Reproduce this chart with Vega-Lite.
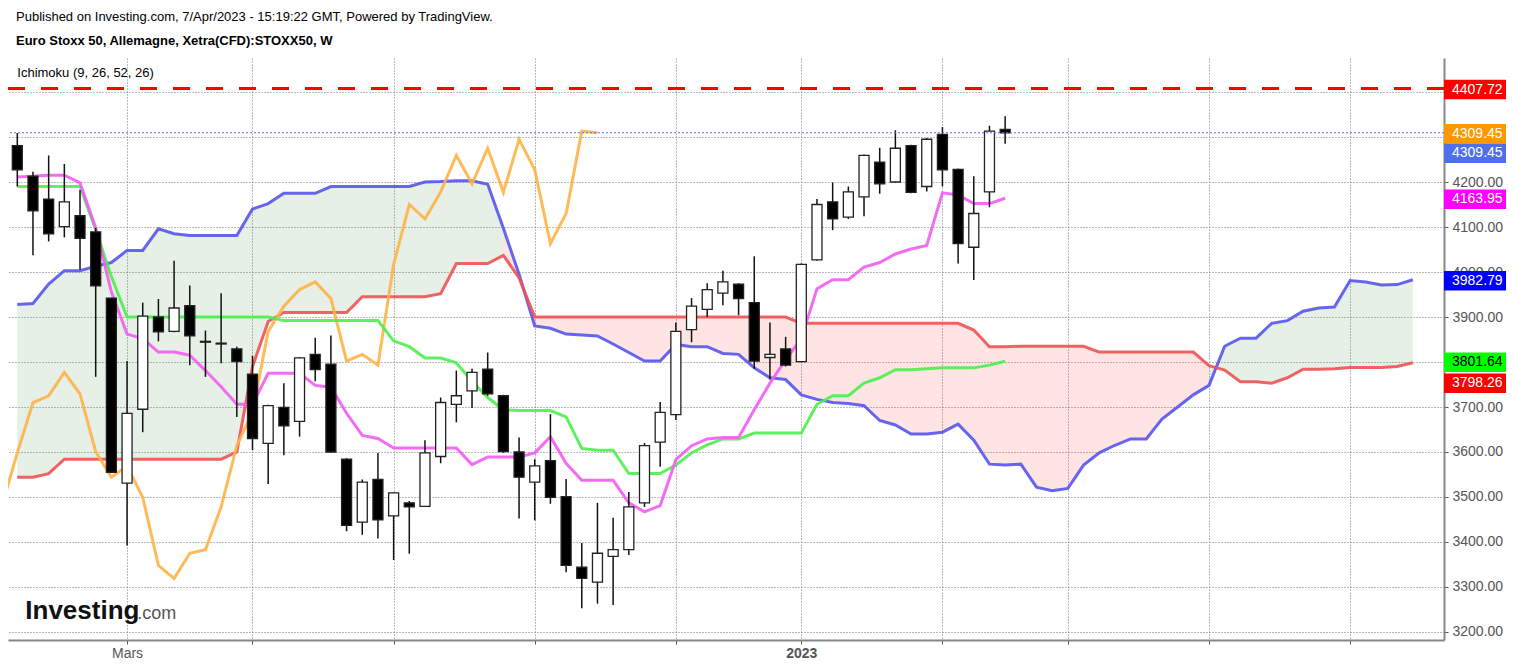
{
  "$schema": "https://vega.github.io/schema/vega-lite/v6.json",
  "width": 1436,
  "height": 582,
  "autosize": "none",
  "padding": {"left": 8, "top": 58, "right": 69, "bottom": 28},
  "background": "white",
  "config": {"view": {"stroke": null}, "font": "Liberation Sans"},
  "title": {
    "text": "Published on Investing.com, 7/Apr/2023 - 15:19:22 GMT, Powered by TradingView.",
    "subtitle": "Euro Stoxx 50, Allemagne, Xetra(CFD):STOXX50, W",
    "anchor": "start", "frame": "group", "dx": 8, "offset": 10,
    "font": "Liberation Sans", "fontSize": 13, "fontWeight": "normal", "color": "#000",
    "subtitleFont": "Liberation Sans", "subtitleFontSize": 13, "subtitleFontWeight": "bold",
    "subtitleColor": "#000", "subtitlePadding": 11
  },
  "datasets": {
    "candles": [
      {"date":"2022-01-17","open":4281,"high":4309,"low":4190,"close":4227,"tenkan":4211,"kijun":4190},
      {"date":"2022-01-24","open":4213,"high":4223,"low":4037,"close":4136,"tenkan":4213,"kijun":4190},
      {"date":"2022-01-31","open":4162,"high":4259,"low":4068,"close":4085,"tenkan":4215,"kijun":4190},
      {"date":"2022-02-07","open":4101,"high":4240,"low":4077,"close":4156,"tenkan":4215,"kijun":4190},
      {"date":"2022-02-14","open":4125,"high":4182,"low":4005,"close":4075,"tenkan":4198,"kijun":4190},
      {"date":"2022-02-21","open":4089,"high":4098,"low":3767,"close":3969,"tenkan":4098,"kijun":4094},
      {"date":"2022-02-28","open":3942,"high":3943,"low":3554,"close":3555,"tenkan":3956,"kijun":3990},
      {"date":"2022-03-07","open":3531,"high":3802,"low":3392,"close":3686,"tenkan":3862,"kijun":3900},
      {"date":"2022-03-14","open":3695,"high":3932,"low":3644,"close":3902,"tenkan":3852,"kijun":3900},
      {"date":"2022-03-21","open":3900,"high":3940,"low":3846,"close":3867,"tenkan":3822,"kijun":3900},
      {"date":"2022-03-28","open":3868,"high":4025,"low":3866,"close":3920,"tenkan":3822,"kijun":3900},
      {"date":"2022-04-04","open":3925,"high":3970,"low":3793,"close":3858,"tenkan":3815,"kijun":3900},
      {"date":"2022-04-11","open":3846,"high":3870,"low":3767,"close":3844,"tenkan":3781,"kijun":3900},
      {"date":"2022-04-18","open":3842,"high":3953,"low":3797,"close":3840,"tenkan":3745,"kijun":3900},
      {"date":"2022-04-25","open":3829,"high":3834,"low":3678,"close":3801,"tenkan":3706,"kijun":3900},
      {"date":"2022-05-02","open":3773,"high":3814,"low":3604,"close":3630,"tenkan":3706,"kijun":3900},
      {"date":"2022-05-09","open":3619,"high":3705,"low":3529,"close":3703,"tenkan":3775,"kijun":3900},
      {"date":"2022-05-16","open":3699,"high":3753,"low":3593,"close":3658,"tenkan":3775,"kijun":3892},
      {"date":"2022-05-23","open":3668,"high":3811,"low":3634,"close":3809,"tenkan":3775,"kijun":3892},
      {"date":"2022-05-30","open":3817,"high":3854,"low":3757,"close":3783,"tenkan":3748,"kijun":3892},
      {"date":"2022-06-06","open":3795,"high":3859,"low":3598,"close":3600,"tenkan":3744,"kijun":3892},
      {"date":"2022-06-13","open":3584,"high":3586,"low":3424,"close":3437,"tenkan":3686,"kijun":3892},
      {"date":"2022-06-20","open":3444,"high":3539,"low":3416,"close":3533,"tenkan":3637,"kijun":3892},
      {"date":"2022-06-27","open":3539,"high":3598,"low":3408,"close":3449,"tenkan":3630,"kijun":3892},
      {"date":"2022-07-04","open":3458,"high":3510,"low":3360,"close":3509,"tenkan":3609,"kijun":3847},
      {"date":"2022-07-11","open":3487,"high":3491,"low":3374,"close":3478,"tenkan":3609,"kijun":3834},
      {"date":"2022-07-18","open":3479,"high":3626,"low":3478,"close":3598,"tenkan":3609,"kijun":3809},
      {"date":"2022-07-25","open":3590,"high":3721,"low":3575,"close":3710,"tenkan":3609,"kijun":3809},
      {"date":"2022-08-01","open":3706,"high":3781,"low":3666,"close":3725,"tenkan":3609,"kijun":3798},
      {"date":"2022-08-08","open":3736,"high":3785,"low":3698,"close":3777,"tenkan":3572,"kijun":3757},
      {"date":"2022-08-15","open":3784,"high":3821,"low":3725,"close":3729,"tenkan":3589,"kijun":3721},
      {"date":"2022-08-22","open":3725,"high":3727,"low":3598,"close":3601,"tenkan":3589,"kijun":3694},
      {"date":"2022-08-29","open":3600,"high":3632,"low":3452,"close":3544,"tenkan":3589,"kijun":3692},
      {"date":"2022-09-05","open":3533,"high":3584,"low":3448,"close":3569,"tenkan":3598,"kijun":3692},
      {"date":"2022-09-12","open":3581,"high":3684,"low":3485,"close":3499,"tenkan":3634,"kijun":3692},
      {"date":"2022-09-19","open":3501,"high":3540,"low":3333,"close":3348,"tenkan":3575,"kijun":3678},
      {"date":"2022-09-26","open":3344,"high":3398,"low":3253,"close":3319,"tenkan":3537,"kijun":3608},
      {"date":"2022-10-03","open":3311,"high":3487,"low":3263,"close":3375,"tenkan":3537,"kijun":3604},
      {"date":"2022-10-10","open":3368,"high":3454,"low":3260,"close":3383,"tenkan":3537,"kijun":3604},
      {"date":"2022-10-17","open":3383,"high":3511,"low":3371,"close":3478,"tenkan":3487,"kijun":3552},
      {"date":"2022-10-24","open":3487,"high":3620,"low":3478,"close":3614,"tenkan":3467,"kijun":3552},
      {"date":"2022-10-31","open":3622,"high":3711,"low":3567,"close":3688,"tenkan":3481,"kijun":3552},
      {"date":"2022-11-07","open":3683,"high":3888,"low":3671,"close":3868,"tenkan":3583,"kijun":3571},
      {"date":"2022-11-14","open":3872,"high":3942,"low":3844,"close":3924,"tenkan":3614,"kijun":3598},
      {"date":"2022-11-21","open":3917,"high":3975,"low":3900,"close":3961,"tenkan":3629,"kijun":3616},
      {"date":"2022-11-28","open":3953,"high":4003,"low":3926,"close":3978,"tenkan":3632,"kijun":3629},
      {"date":"2022-12-05","open":3973,"high":3975,"low":3904,"close":3941,"tenkan":3632,"kijun":3629},
      {"date":"2022-12-12","open":3932,"high":4035,"low":3785,"close":3802,"tenkan":3694,"kijun":3642},
      {"date":"2022-12-19","open":3810,"high":3888,"low":3761,"close":3817,"tenkan":3753,"kijun":3642},
      {"date":"2022-12-26","open":3829,"high":3856,"low":3790,"close":3793,"tenkan":3805,"kijun":3642},
      {"date":"2023-01-02","open":3801,"high":4019,"low":3799,"close":4017,"tenkan":3852,"kijun":3642},
      {"date":"2023-01-09","open":4027,"high":4162,"low":4025,"close":4150,"tenkan":3963,"kijun":3706},
      {"date":"2023-01-16","open":4156,"high":4199,"low":4093,"close":4118,"tenkan":3983,"kijun":3725},
      {"date":"2023-01-23","open":4122,"high":4190,"low":4118,"close":4178,"tenkan":3983,"kijun":3725},
      {"date":"2023-01-30","open":4167,"high":4261,"low":4124,"close":4259,"tenkan":4011,"kijun":3753},
      {"date":"2023-02-06","open":4244,"high":4276,"low":4174,"close":4196,"tenkan":4021,"kijun":3765},
      {"date":"2023-02-13","open":4200,"high":4315,"low":4198,"close":4275,"tenkan":4040,"kijun":3783},
      {"date":"2023-02-20","open":4281,"high":4283,"low":4175,"close":4177,"tenkan":4051,"kijun":3783},
      {"date":"2023-02-27","open":4190,"high":4298,"low":4179,"close":4295,"tenkan":4059,"kijun":3785},
      {"date":"2023-03-06","open":4306,"high":4322,"low":4190,"close":4227,"tenkan":4176,"kijun":3787},
      {"date":"2023-03-13","open":4228,"high":4230,"low":4019,"close":4063,"tenkan":4171,"kijun":3787},
      {"date":"2023-03-20","open":4055,"high":4213,"low":3982,"close":4130,"tenkan":4152,"kijun":3787},
      {"date":"2023-03-27","open":4178,"high":4325,"low":4144,"close":4313,"tenkan":4152,"kijun":3793},
      {"date":"2023-04-03","open":4317,"high":4346,"low":4285,"close":4309.45,"tenkan":4163.95,"kijun":3801.64}
    ],
    "chikou": [
      {"date":"2022-01-10","chikou":3478},{"date":"2022-01-17","chikou":3598},{"date":"2022-01-24","chikou":3710},
      {"date":"2022-01-31","chikou":3725},{"date":"2022-02-07","chikou":3777},{"date":"2022-02-14","chikou":3729},
      {"date":"2022-02-21","chikou":3601},{"date":"2022-02-28","chikou":3544},{"date":"2022-03-07","chikou":3569},
      {"date":"2022-03-14","chikou":3499},{"date":"2022-03-21","chikou":3348},{"date":"2022-03-28","chikou":3319},
      {"date":"2022-04-04","chikou":3375},{"date":"2022-04-11","chikou":3383},{"date":"2022-04-18","chikou":3478},
      {"date":"2022-04-25","chikou":3614},{"date":"2022-05-02","chikou":3688},{"date":"2022-05-09","chikou":3868},
      {"date":"2022-05-16","chikou":3924},{"date":"2022-05-23","chikou":3961},{"date":"2022-05-30","chikou":3978},
      {"date":"2022-06-06","chikou":3941},{"date":"2022-06-13","chikou":3802},{"date":"2022-06-20","chikou":3817},
      {"date":"2022-06-27","chikou":3793},{"date":"2022-07-04","chikou":4017},{"date":"2022-07-11","chikou":4150},
      {"date":"2022-07-18","chikou":4118},{"date":"2022-07-25","chikou":4178},{"date":"2022-08-01","chikou":4259},
      {"date":"2022-08-08","chikou":4196},{"date":"2022-08-15","chikou":4275},{"date":"2022-08-22","chikou":4177},
      {"date":"2022-08-29","chikou":4295},{"date":"2022-09-05","chikou":4227},{"date":"2022-09-12","chikou":4063},
      {"date":"2022-09-19","chikou":4130},{"date":"2022-09-26","chikou":4313},{"date":"2022-10-03","chikou":4309.45}
    ],
    "cloud": [
      {"date":"2022-01-17","spanA":3928,"spanB":3544},{"date":"2022-01-24","spanA":3930,"spanB":3544},
      {"date":"2022-01-31","spanA":3973,"spanB":3552},{"date":"2022-02-07","spanA":4003,"spanB":3584},
      {"date":"2022-02-14","spanA":4003,"spanB":3584},{"date":"2022-02-21","spanA":4013,"spanB":3584},
      {"date":"2022-02-28","spanA":4021,"spanB":3584},{"date":"2022-03-07","spanA":4048,"spanB":3584},
      {"date":"2022-03-14","spanA":4048,"spanB":3584},{"date":"2022-03-21","spanA":4096,"spanB":3584},
      {"date":"2022-03-28","spanA":4085,"spanB":3584},{"date":"2022-04-04","spanA":4081,"spanB":3584},
      {"date":"2022-04-11","spanA":4081,"spanB":3584},{"date":"2022-04-18","spanA":4081,"spanB":3584},
      {"date":"2022-04-25","spanA":4081,"spanB":3600},{"date":"2022-05-02","spanA":4140,"spanB":3790},
      {"date":"2022-05-09","spanA":4152,"spanB":3890},{"date":"2022-05-16","spanA":4175,"spanB":3910},
      {"date":"2022-05-23","spanA":4175,"spanB":3910},{"date":"2022-05-30","spanA":4175,"spanB":3910},
      {"date":"2022-06-06","spanA":4190,"spanB":3910},{"date":"2022-06-13","spanA":4190,"spanB":3910},
      {"date":"2022-06-20","spanA":4190,"spanB":3945},{"date":"2022-06-27","spanA":4190,"spanB":3945},
      {"date":"2022-07-04","spanA":4190,"spanB":3945},{"date":"2022-07-11","spanA":4190,"spanB":3945},
      {"date":"2022-07-18","spanA":4200,"spanB":3945},{"date":"2022-07-25","spanA":4201,"spanB":3952},
      {"date":"2022-08-01","spanA":4203,"spanB":4019},{"date":"2022-08-08","spanA":4203,"spanB":4019},
      {"date":"2022-08-15","spanA":4195,"spanB":4019},{"date":"2022-08-22","spanA":4097,"spanB":4037},
      {"date":"2022-08-29","spanA":3995,"spanB":3987},{"date":"2022-09-05","spanA":3880,"spanB":3900},
      {"date":"2022-09-12","spanA":3875,"spanB":3900},{"date":"2022-09-19","spanA":3862,"spanB":3900},
      {"date":"2022-09-26","spanA":3860,"spanB":3900},{"date":"2022-10-03","spanA":3858,"spanB":3900},
      {"date":"2022-10-10","spanA":3840,"spanB":3900},{"date":"2022-10-17","spanA":3821,"spanB":3900},
      {"date":"2022-10-24","spanA":3802,"spanB":3900},{"date":"2022-10-31","spanA":3802,"spanB":3900},
      {"date":"2022-11-07","spanA":3839,"spanB":3900},{"date":"2022-11-14","spanA":3834,"spanB":3900},
      {"date":"2022-11-21","spanA":3834,"spanB":3900},{"date":"2022-11-28","spanA":3819,"spanB":3900},
      {"date":"2022-12-05","spanA":3817,"spanB":3900},{"date":"2022-12-12","spanA":3787,"spanB":3900},
      {"date":"2022-12-19","spanA":3765,"spanB":3900},{"date":"2022-12-26","spanA":3761,"spanB":3900},
      {"date":"2023-01-02","spanA":3727,"spanB":3886},{"date":"2023-01-09","spanA":3717,"spanB":3886},
      {"date":"2023-01-16","spanA":3710,"spanB":3886},{"date":"2023-01-23","spanA":3708,"spanB":3886},
      {"date":"2023-01-30","spanA":3703,"spanB":3886},{"date":"2023-02-06","spanA":3670,"spanB":3886},
      {"date":"2023-02-13","spanA":3660,"spanB":3886},{"date":"2023-02-20","spanA":3640,"spanB":3886},
      {"date":"2023-02-27","spanA":3640,"spanB":3886},{"date":"2023-03-06","spanA":3644,"spanB":3886},
      {"date":"2023-03-13","spanA":3662,"spanB":3886},{"date":"2023-03-20","spanA":3626,"spanB":3871},
      {"date":"2023-03-27","spanA":3573,"spanB":3834},{"date":"2023-04-03","spanA":3571,"spanB":3834},
      {"date":"2023-04-10","spanA":3573,"spanB":3835},{"date":"2023-04-17","spanA":3522,"spanB":3835},
      {"date":"2023-04-24","spanA":3514,"spanB":3835},{"date":"2023-05-01","spanA":3519,"spanB":3835},
      {"date":"2023-05-08","spanA":3571,"spanB":3835},{"date":"2023-05-15","spanA":3598,"spanB":3822},
      {"date":"2023-05-22","spanA":3615,"spanB":3822},{"date":"2023-05-29","spanA":3629,"spanB":3822},
      {"date":"2023-06-05","spanA":3629,"spanB":3822},{"date":"2023-06-12","spanA":3673,"spanB":3822},
      {"date":"2023-06-19","spanA":3700,"spanB":3822},{"date":"2023-06-26","spanA":3727,"spanB":3822},
      {"date":"2023-07-03","spanA":3748,"spanB":3792},{"date":"2023-07-10","spanA":3835,"spanB":3782},
      {"date":"2023-07-17","spanA":3853,"spanB":3756},{"date":"2023-07-24","spanA":3853,"spanB":3756},
      {"date":"2023-07-31","spanA":3886,"spanB":3753},{"date":"2023-08-07","spanA":3892,"spanB":3765},
      {"date":"2023-08-14","spanA":3913,"spanB":3784},{"date":"2023-08-21","spanA":3920,"spanB":3784},
      {"date":"2023-08-28","spanA":3922,"spanB":3785},{"date":"2023-09-04","spanA":3981,"spanB":3788},
      {"date":"2023-09-11","spanA":3978,"spanB":3788},{"date":"2023-09-18","spanA":3971,"spanB":3788},
      {"date":"2023-09-25","spanA":3972,"spanB":3790},{"date":"2023-10-02","spanA":3982.79,"spanB":3798.26}
    ],
    "prix": [
      {"series":"Plus haut","price":4407.72},
      {"series":"Chikou","price":4309.45},
      {"series":"Dernier","price":4309.45},
      {"series":"Tenkan","price":4163.95},
      {"series":"Senkou A","price":3982.79},
      {"series":"Kijun","price":3801.64},
      {"series":"Senkou B","price":3798.26}
    ]
  },
  "layer": [
    {
      "data": {"name": "cloud"},
      "transform": [{"filter": {"field": "date", "lte": {"year": 2022, "month": 8, "date": 22, "utc": true}}}],
      "mark": {"type": "area", "color": "#3d8c3d", "opacity": 0.13},
      "encoding": {
        "x": {
          "field": "date", "type": "temporal", "title": null,
          "scale": {"type": "utc", "padding": 0, "domain": [
            {"year": 2022, "month": 1, "date": 12, "hours": 20, "minutes": 24, "utc": true},
            {"year": 2023, "month": 10, "date": 15, "hours": 22, "utc": true}
          ]},
          "axis": {
            "title": null,
            "values": [
              {"year": 2022, "month": 3, "date": 7, "utc": true},
              {"year": 2022, "month": 5, "date": 2, "utc": true},
              {"year": 2022, "month": 7, "date": 4, "utc": true},
              {"year": 2022, "month": 9, "date": 5, "utc": true},
              {"year": 2022, "month": 11, "date": 7, "utc": true},
              {"year": 2023, "month": 1, "date": 2, "utc": true},
              {"year": 2023, "month": 3, "date": 6, "utc": true},
              {"year": 2023, "month": 5, "date": 1, "utc": true},
              {"year": 2023, "month": 7, "date": 3, "utc": true},
              {"year": 2023, "month": 9, "date": 4, "utc": true}
            ],
            "labelExpr": "utcFormat(datum.value, '%Y-%m') == '2022-03' ? 'Mars' : (utcFormat(datum.value, '%Y-%m') == '2023-01' ? '2023' : '')",
            "labelFontWeight": {"condition": {"test": "utcFormat(datum.value, '%m') == '01'", "value": "bold"}, "value": "normal"},
            "labelFont": "Liberation Sans", "labelFontSize": 14, "labelColor": "#555",
            "labelPadding": 2, "tickSize": 4, "tickColor": "#555",
            "domainColor": "#888", "domainWidth": 2,
            "grid": true, "gridDash": [1, 2], "gridColor": "#777", "gridWidth": 1
          }
        },
        "y": {
          "field": "spanA", "type": "quantitative", "title": null,
          "scale": {"domain": [3182.2, 4475.6], "nice": false, "zero": false},
          "axis": {
            "title": null, "orient": "right",
            "values": [3200, 3300, 3400, 3500, 3600, 3700, 3800, 3900, 4000, 4100, 4200, 4300, 4400],
            "labelExpr": "datum.value >= 4300 ? '' : format(datum.value, '.2f')",
            "labelFont": "Liberation Sans", "labelFontSize": 14, "labelColor": "#555",
            "labelPadding": 4, "tickSize": 4, "tickColor": "#555",
            "domainColor": "#888", "domainWidth": 2,
            "grid": true, "gridDash": [1, 2], "gridColor": "#777", "gridWidth": 1
          }
        },
        "y2": {"field": "spanB"}
      }
    },
    {
      "data": {"name": "cloud"},
      "transform": [{"filter": {"field": "date", "range": [
        {"year": 2022, "month": 8, "date": 22, "utc": true},
        {"year": 2023, "month": 7, "date": 3, "utc": true}
      ]}}],
      "mark": {"type": "area", "color": "#ff3030", "opacity": 0.13},
      "encoding": {
        "x": {"field": "date", "type": "temporal", "title": null},
        "y": {"field": "spanA", "type": "quantitative", "title": null},
        "y2": {"field": "spanB"}
      }
    },
    {
      "data": {"name": "cloud"},
      "transform": [{"filter": {"field": "date", "gte": {"year": 2023, "month": 7, "date": 3, "utc": true}}}],
      "mark": {"type": "area", "color": "#3d8c3d", "opacity": 0.13},
      "encoding": {
        "x": {"field": "date", "type": "temporal", "title": null},
        "y": {"field": "spanA", "type": "quantitative", "title": null},
        "y2": {"field": "spanB"}
      }
    },
    {
      "data": {"name": "cloud"},
      "mark": {"type": "line", "color": "#5555ee", "strokeWidth": 3, "opacity": 0.9},
      "encoding": {
        "x": {"field": "date", "type": "temporal", "title": null},
        "y": {"field": "spanA", "type": "quantitative", "title": null}
      }
    },
    {
      "data": {"name": "cloud"},
      "mark": {"type": "line", "color": "#f05252", "strokeWidth": 3, "opacity": 0.9},
      "encoding": {
        "x": {"field": "date", "type": "temporal", "title": null},
        "y": {"field": "spanB", "type": "quantitative", "title": null}
      }
    },
    {
      "data": {"name": "chikou"},
      "mark": {"type": "line", "color": "#ffb347", "strokeWidth": 3, "opacity": 0.9, "clip": true},
      "encoding": {
        "x": {"field": "date", "type": "temporal", "title": null},
        "y": {"field": "chikou", "type": "quantitative", "title": null}
      }
    },
    {
      "data": {"name": "candles"},
      "mark": {"type": "line", "color": "#4cee4c", "strokeWidth": 3, "opacity": 0.9},
      "encoding": {
        "x": {"field": "date", "type": "temporal", "title": null},
        "y": {"field": "kijun", "type": "quantitative", "title": null}
      }
    },
    {
      "data": {"name": "candles"},
      "mark": {"type": "line", "color": "#f35cf3", "strokeWidth": 3, "opacity": 0.9},
      "encoding": {
        "x": {"field": "date", "type": "temporal", "title": null},
        "y": {"field": "tenkan", "type": "quantitative", "title": null}
      }
    },
    {
      "data": {"name": "candles"},
      "mark": {"type": "rule", "color": "#111", "strokeWidth": 1.5},
      "encoding": {
        "x": {"field": "date", "type": "temporal", "title": null},
        "y": {"field": "low", "type": "quantitative", "title": null},
        "y2": {"field": "high"}
      }
    },
    {
      "data": {"name": "candles"},
      "mark": {"type": "bar", "width": 10, "stroke": "#222", "strokeWidth": 1.3},
      "encoding": {
        "x": {"field": "date", "type": "temporal", "title": null},
        "y": {"field": "open", "type": "quantitative", "title": null},
        "y2": {"field": "close"},
        "fill": {"condition": {"test": "datum.close > datum.open", "value": "#ffffff"}, "value": "#000000"}
      }
    },
    {
      "data": {"values": [{"price": 4407.72}]},
      "mark": {"type": "rule", "color": "#ff0000", "strokeWidth": 3, "strokeDash": [17, 16]},
      "encoding": {"y": {"field": "price", "type": "quantitative", "title": null}}
    },
    {
      "data": {"values": [{"price": 4309.45}]},
      "mark": {"type": "rule", "color": "#4f6fe8", "strokeWidth": 1, "strokeDash": [2, 2]},
      "encoding": {"y": {"field": "price", "type": "quantitative", "title": null}}
    },
    {
      "data": {"name": "prix"},
      "transform": [{"filter": "datum.series != 'Dernier' && datum.series != 'Senkou B'"}],
      "mark": {"type": "point", "shape": "M0,-0.5L3.18,-0.5L3.18,0.5L0,0.5Z", "size": 1521, "filled": true, "opacity": 1, "strokeWidth": 0, "yOffset": 1},
      "encoding": {
        "x": {"datum": {"year": 2023, "month": 10, "date": 15, "hours": 22, "utc": true}, "type": "temporal", "title": null},
        "y": {"field": "price", "type": "quantitative", "title": null},
        "fill": {"field": "series", "type": "nominal", "legend": null, "scale": {
          "domain": ["Plus haut", "Chikou", "Dernier", "Tenkan", "Senkou A", "Kijun", "Senkou B"],
          "range": ["#ff0000", "#ff9800", "#4f6fe8", "#ff00ff", "#0000ff", "#00ff00", "#ff0000"]
        }}
      }
    },
    {
      "data": {"name": "prix"},
      "transform": [{"filter": "datum.series == 'Dernier' || datum.series == 'Senkou B'"}],
      "mark": {"type": "point", "shape": "M0,-0.5L3.18,-0.5L3.18,0.5L0,0.5Z", "size": 1521, "filled": true, "opacity": 1, "strokeWidth": 0, "yOffset": 20.5},
      "encoding": {
        "x": {"datum": {"year": 2023, "month": 10, "date": 15, "hours": 22, "utc": true}, "type": "temporal", "title": null},
        "y": {"field": "price", "type": "quantitative", "title": null},
        "fill": {"field": "series", "type": "nominal", "legend": null}
      }
    },
    {
      "data": {"name": "prix"},
      "transform": [{"filter": "datum.series != 'Dernier' && datum.series != 'Senkou B'"}],
      "mark": {"type": "text", "align": "left", "baseline": "middle", "dx": 8, "yOffset": 1, "fontSize": 14, "font": "Liberation Sans"},
      "encoding": {
        "x": {"datum": {"year": 2023, "month": 10, "date": 15, "hours": 22, "utc": true}, "type": "temporal", "title": null},
        "y": {"field": "price", "type": "quantitative", "title": null},
        "text": {"field": "price", "type": "quantitative", "format": ".2f"},
        "color": {"condition": {"test": "datum.series == 'Kijun'", "value": "#000000"}, "value": "#ffffff"}
      }
    },
    {
      "data": {"name": "prix"},
      "transform": [{"filter": "datum.series == 'Dernier' || datum.series == 'Senkou B'"}],
      "mark": {"type": "text", "align": "left", "baseline": "middle", "dx": 8, "yOffset": 20.5, "fontSize": 14, "font": "Liberation Sans"},
      "encoding": {
        "x": {"datum": {"year": 2023, "month": 10, "date": 15, "hours": 22, "utc": true}, "type": "temporal", "title": null},
        "y": {"field": "price", "type": "quantitative", "title": null},
        "text": {"field": "price", "type": "quantitative", "format": ".2f"},
        "color": {"value": "#ffffff"}
      }
    },
    {
      "data": {"values": [{"label": "Ichimoku (9, 26, 52, 26)"}]},
      "mark": {"type": "text", "align": "left", "baseline": "middle", "fontSize": 13, "font": "Liberation Sans", "color": "#000"},
      "encoding": {
        "x": {"datum": {"year": 2022, "month": 1, "date": 17, "utc": true}, "type": "temporal", "title": null},
        "y": {"datum": 4443, "type": "quantitative", "title": null},
        "text": {"field": "label"}
      }
    },
    {
      "data": {"values": [{"label": "Investing"}]},
      "mark": {"type": "text", "align": "left", "baseline": "alphabetic", "dx": 8, "fontSize": 26, "fontWeight": "bold", "letterSpacing": -0.5, "font": "Liberation Sans", "color": "#111"},
      "encoding": {
        "x": {"datum": {"year": 2022, "month": 1, "date": 17, "utc": true}, "type": "temporal", "title": null},
        "y": {"datum": 3229, "type": "quantitative", "title": null},
        "text": {"field": "label"}
      }
    },
    {
      "data": {"values": [{"label": ".com"}]},
      "mark": {"type": "text", "align": "left", "baseline": "alphabetic", "dx": 120, "fontSize": 18, "letterSpacing": -0.5, "font": "Liberation Sans", "color": "#555"},
      "encoding": {
        "x": {"datum": {"year": 2022, "month": 1, "date": 17, "utc": true}, "type": "temporal", "title": null},
        "y": {"datum": 3229, "type": "quantitative", "title": null},
        "text": {"field": "label"}
      }
    }
  ]
}
